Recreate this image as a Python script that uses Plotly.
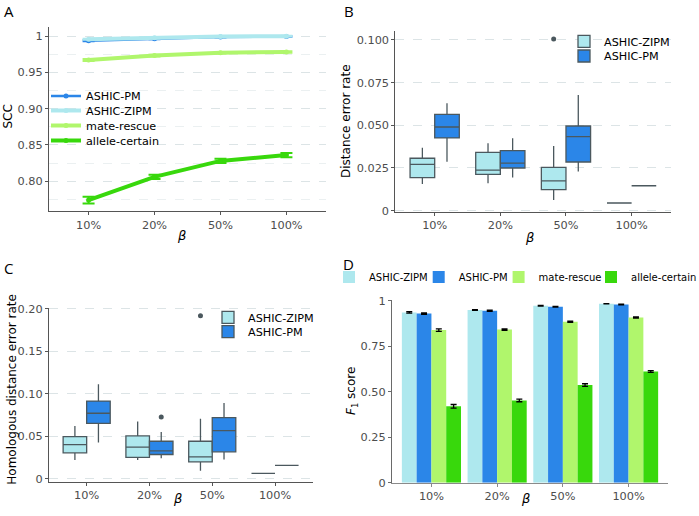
import plotly.graph_objects as go

W, H = 699, 516

categories = ['10%', '20%', '50%', '100%']
methods_box = ['ASHIC-ZIPM', 'ASHIC-PM']

# ---------------- Panel A: SCC ----------------
scc_pm = [0.9935, 0.9962, 0.9985, 0.9993]
scc_pm_err = [0.0008, 0.0006, 0.0005, 0.0004]
scc_zipm = [0.9955, 0.9975, 0.9993, 0.9998]
scc_zipm_err = [0.0008, 0.0006, 0.0005, 0.0004]
scc_mate = [0.967, 0.973, 0.977, 0.978]
scc_mate_err = [0.0015, 0.0012, 0.0010, 0.0010]
scc_allele = [0.774, 0.806, 0.828, 0.836]
scc_allele_err = [0.0045, 0.0030, 0.0030, 0.0030]

# ---------------- Panel B: distance error rate ----------------
b_zipm_low = [0.0156, 0.0160, 0.0063, 0.0045]
b_zipm_q1 = [0.0193, 0.0213, 0.0123, 0.0045]
b_zipm_med = [0.0271, 0.0238, 0.0174, 0.0045]
b_zipm_q3 = [0.0307, 0.0342, 0.0254, 0.0045]
b_zipm_up = [0.0369, 0.0395, 0.0379, 0.0045]
b_pm_low = [0.0287, 0.0195, 0.0229, 0.0146]
b_pm_q1 = [0.0426, 0.0250, 0.0285, 0.0146]
b_pm_med = [0.0490, 0.0279, 0.0434, 0.0146]
b_pm_q3 = [0.0564, 0.0352, 0.0496, 0.0146]
b_pm_up = [0.0629, 0.0424, 0.0678, 0.0146]
b_out_cat = ['50%']
b_out_method = ['ASHIC-ZIPM']
b_out_val = [0.1005]

# ---------------- Panel C: homologous distance error rate ----------------
c_zipm_low = [0.0219, 0.0219, 0.0094, 0.0063]
c_zipm_q1 = [0.0305, 0.0250, 0.0199, 0.0063]
c_zipm_med = [0.0402, 0.0371, 0.0258, 0.0063]
c_zipm_q3 = [0.0496, 0.0504, 0.0441, 0.0063]
c_zipm_up = [0.0621, 0.0672, 0.0707, 0.0063]
c_pm_low = [0.0426, 0.0242, 0.0227, 0.0156]
c_pm_q1 = [0.0652, 0.0285, 0.0316, 0.0156]
c_pm_med = [0.0770, 0.0328, 0.0566, 0.0156]
c_pm_q3 = [0.0914, 0.0441, 0.0719, 0.0156]
c_pm_up = [0.1110, 0.0551, 0.0891, 0.0156]
c_out_cat = ['20%', '50%']
c_out_method = ['ASHIC-PM', 'ASHIC-ZIPM']
c_out_val = [0.0727, 0.1918]

# ---------------- Panel D: F1 score ----------------
f1_zipm = [0.936, 0.949, 0.973, 0.984]
f1_zipm_err = [0.004, 0.002, 0.002, 0.001]
f1_pm = [0.930, 0.945, 0.967, 0.980]
f1_pm_err = [0.004, 0.003, 0.002, 0.002]
f1_mate = [0.839, 0.842, 0.885, 0.908]
f1_mate_err = [0.007, 0.004, 0.003, 0.003]
f1_allele = [0.420, 0.452, 0.537, 0.611]
f1_allele_err = [0.010, 0.007, 0.007, 0.005]

# ---------------- styling ----------------
C_ZIPM = '#AEE8EE'
C_PM = '#2B86E8'
C_MATE = '#B0F66C'
C_ALLELE = '#38D80C'
BOX_LINE = '#4B585E'
AX = '#555555'
TICKC = '#4D4D4D'
GRID = '#DCE4E6'
FONT = 'DejaVu Sans'

xpos = list(range(len(categories)))
box_half = 0.1875
dodge = {'ASHIC-ZIPM': -box_half, 'ASHIC-PM': box_half}

fig = go.Figure()

# ---- A ----
for name, vals, errs, col, lw, leg in [
    ('ASHIC-PM', scc_pm, scc_pm_err, C_PM, 2.5, 'legend'),
    ('ASHIC-ZIPM', scc_zipm, scc_zipm_err, C_ZIPM, 4, 'legend2'),
    ('mate-rescue', scc_mate, scc_mate_err, C_MATE, 4, 'legend3'),
    ('allele-certain', scc_allele, scc_allele_err, C_ALLELE, 4, 'legend4'),
]:
    fig.add_trace(go.Scatter(
        x=xpos, y=vals, name=name, mode='lines+markers',
        line=dict(color=col, width=lw), marker=dict(color=col, size=5),
        error_y=dict(type='data', array=errs, color=col, thickness=2, width=6),
        xaxis='x', yaxis='y', legend=leg))

# ---- B and C boxes ----
def add_boxes(ax, ay, stats, outs, legs):
    for (name, col, low, q1, med, q3, up), leg in zip(stats, legs):
        fig.add_trace(go.Box(
            x=xpos, lowerfence=low, q1=q1, median=med, q3=q3, upperfence=up,
            name=name, fillcolor=col, line=dict(color=BOX_LINE, width=1.3),
            whiskerwidth=0, boxpoints=False, xaxis=ax, yaxis=ay, legend=leg,
            offsetgroup=name))
    cats, meths, vals = outs
    fig.add_trace(go.Scatter(
        x=[categories.index(c) + dodge[m] for c, m in zip(cats, meths)], y=vals,
        mode='markers', marker=dict(color=BOX_LINE, size=5), showlegend=False,
        xaxis=ax, yaxis=ay, hoverinfo='y'))

add_boxes('x2', 'y2', [
    ('ASHIC-ZIPM', C_ZIPM, b_zipm_low, b_zipm_q1, b_zipm_med, b_zipm_q3, b_zipm_up),
    ('ASHIC-PM', C_PM, b_pm_low, b_pm_q1, b_pm_med, b_pm_q3, b_pm_up)],
    (b_out_cat, b_out_method, b_out_val), ['legend5', 'legend6'])
add_boxes('x3', 'y3', [
    ('ASHIC-ZIPM', C_ZIPM, c_zipm_low, c_zipm_q1, c_zipm_med, c_zipm_q3, c_zipm_up),
    ('ASHIC-PM', C_PM, c_pm_low, c_pm_q1, c_pm_med, c_pm_q3, c_pm_up)],
    (c_out_cat, c_out_method, c_out_val), ['legend7', 'legend8'])

# ---- D bars ----
for name, vals, errs, col, leg in [
    ('ASHIC-ZIPM', f1_zipm, f1_zipm_err, C_ZIPM, 'legend9'),
    ('ASHIC-PM', f1_pm, f1_pm_err, C_PM, 'legend10'),
    ('mate-rescue', f1_mate, f1_mate_err, C_MATE, 'legend11'),
    ('allele-certain', f1_allele, f1_allele_err, C_ALLELE, 'legend12'),
]:
    fig.add_trace(go.Bar(
        x=xpos, y=vals, name=name, marker=dict(color=col, line=dict(width=0)),
        error_y=dict(type='data', array=errs, color='black', thickness=1.3, width=3),
        xaxis='x4', yaxis='y4', legend=leg))

# ---------------- axes ----------------
def px_x(a, b):
    return [a / W, b / W]

def px_y(top, bottom):
    return [(H - bottom) / H, (H - top) / H]

def xaxis(dom, anchor, axcol=AX):
    return dict(domain=dom, anchor=anchor, range=[-0.6, 3.6], tickvals=xpos,
                ticktext=categories, showline=True, linecolor=axcol, linewidth=1,
                ticks='outside', ticklen=3, tickcolor=axcol, showgrid=False,
                zeroline=False, tickfont=dict(family=FONT, size=11.3, color=TICKC))

def yaxis(dom, anchor, rng, tv, tt, grid=True, axcol=AX, minor=None):
    d = dict(domain=dom, anchor=anchor, range=rng, tickvals=tv, ticktext=tt,
             showline=True, linecolor=axcol, linewidth=1, ticks='outside',
             ticklen=3, tickcolor=axcol, showgrid=grid, gridcolor=GRID,
             griddash='dash', gridwidth=1, zeroline=False,
             tickfont=dict(family=FONT, size=11.3, color=TICKC))
    if minor is not None:
        d['minor'] = dict(tickvals=minor, showgrid=True, gridcolor='#EBF0F1',
                          griddash='dash', ticks='')
    return d

fig.update_layout(
    width=W, height=H, autosize=False,
    margin=dict(l=0, r=0, t=0, b=0, autoexpand=False),
    paper_bgcolor='white', plot_bgcolor='white',
    boxmode='group', boxgap=0.25, boxgroupgap=0,
    barmode='group', bargap=0.1, bargroupgap=0,
    font=dict(family=FONT, color='black'),
    xaxis=xaxis(px_x(49, 326), 'y'),
    yaxis=yaxis(px_y(27, 211), 'x', [0.759, 1.0124],
                [0.80, 0.85, 0.90, 0.95, 1.0], ['0.80', '0.85', '0.90', '0.95', '1'],
                minor=[0.775, 0.825, 0.875, 0.925, 0.975]),
    xaxis2=xaxis(px_x(395.3, 671), 'y2'),
    yaxis2=yaxis(px_y(30.7, 211.7), 'x2', [-0.0006, 0.1054],
                 [0, 0.025, 0.05, 0.075, 0.1], ['0', '0.025', '0.050', '0.075', '0.100']),
    xaxis3=xaxis(px_x(49, 312.7), 'y3'),
    yaxis3=yaxis(px_y(307.7, 481.7), 'x3', [-0.0035, 0.2012],
                 [0, 0.05, 0.10, 0.15, 0.20], ['0', '0.05', '0.10', '0.15', '0.20']),
    xaxis4=xaxis(px_x(392, 668), 'y4', axcol='#8A8A8A'),
    yaxis4=yaxis(px_y(299.8, 482.7), 'x4', [0, 1.0055],
                 [0, 0.25, 0.5, 0.75, 1.0], ['0', '0.25', '0.50', '0.75', '1'],
                 grid=False, axcol='#6A6A6A'),
)

# ---------------- legends ----------------
def leg(text_x, cy, size=11.2):
    return dict(x=(text_x - 40) / W, y=(H - cy) / H, xanchor='left', yanchor='middle',
                bgcolor='rgba(0,0,0,0)', borderwidth=0,
                font=dict(family=FONT, size=size, color='black'))

fig.update_layout(
    legend=leg(86, 96), legend2=leg(86, 110.5), legend3=leg(86, 125.5), legend4=leg(86, 140.5),
    legend5=leg(604, 41.3), legend6=leg(604, 56),
    legend7=leg(248, 317.3), legend8=leg(248, 331.7),
    legend9=leg(369, 277, 10), legend10=leg(458.7, 277, 10),
    legend11=leg(538.6, 277, 10), legend12=leg(631, 277, 10),
)

# ---------------- annotations (panel labels, axis titles) ----------------
def ann(text, x, y, size=12, angle=0, family=FONT, xanchor='center', yanchor='middle'):
    fig.add_annotation(text=text, x=x / W, y=(H - y) / H, xref='paper', yref='paper',
                       showarrow=False, textangle=angle, xanchor=xanchor, yanchor=yanchor,
                       font=dict(family=family, size=size, color='black'))

for lab, lx, ly in [('A', 2, 11), ('B', 342, 11), ('C', 2, 267.5), ('D', 341, 263.5)]:
    ann(lab, lx, ly, size=15, family='Open Sans', xanchor='left')

ann('<i>β</i>', 181, 235, size=13)
ann('<i>β</i>', 529, 237, size=13)
ann('<i>β</i>', 177, 498, size=13)
ann('<i>β</i>', 525, 499, size=13)
ann('SCC', 7.5, 117, angle=-90)
ann('Distance error rate', 346, 121, angle=-90)
ann('Homologous distance error rate', 11.7, 389, angle=-90)
ann('<i>F</i><sub>1</sub> score', 352, 391, angle=-90)

fig.write_html('out.html', config={'displayModeBar': False},
               post_script="document.body.style.margin='0';")
